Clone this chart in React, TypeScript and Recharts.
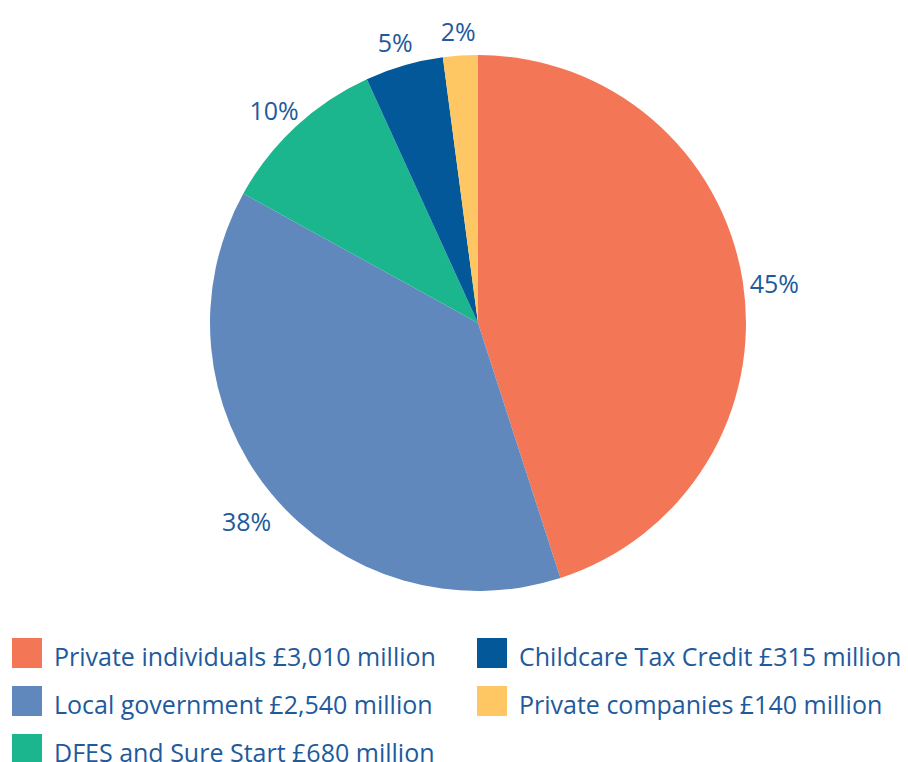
import React from "react";
import { PieChart, Pie, Cell, Legend } from "recharts";

const categories = [
  "Private individuals £3,010 million",
  "Local government £2,540 million",
  "DFES and Sure Start £680 million",
  "Childcare Tax Credit £315 million",
  "Private companies £140 million",
];
const values = [3010, 2540, 680, 315, 140];
const percentLabels = ["45%", "38%", "10%", "5%", "2%"];
const colors = ["#F37756", "#6088BD", "#1BB68D", "#03589A", "#FEC763"];

const data = categories.map((name, i) => ({ name, value: values[i], pct: percentLabels[i] }));

const TEXT = "#1E5A9C";
const FONT = "'Open Sans', 'Noto Sans', sans-serif";
const RAD = Math.PI / 180;

const renderLabel = (props: any) => {
  const { cx, cy, midAngle, outerRadius, index } = props;
  const r = outerRadius + 32;
  const x = cx + r * Math.cos(-midAngle * RAD);
  const y = cy + r * Math.sin(-midAngle * RAD) + 7;
  return (
    <text
      x={x}
      y={y}
      fill={TEXT}
      textAnchor="middle"
      dominantBaseline="central"
      fontSize={25}
      fontFamily={FONT}
    >
      {percentLabels[index]}
    </text>
  );
};

const legendOrder = [
  [0, 3],
  [1, 4],
  [2, -1],
];

const LegendContent = () => (
  <div style={{ position: "relative", width: 908, height: 140, fontFamily: FONT }}>
    {legendOrder.map((row, ri) =>
      row.map((idx, ci) =>
        idx < 0 ? null : (
          <div
            key={`${ri}-${ci}`}
            style={{
              position: "absolute",
              left: ci === 0 ? 12 : 477,
              top: ri * 48,
              display: "flex",
              alignItems: "center",
              height: 30,
            }}
          >
            <div style={{ width: 30, height: 30, background: colors[idx] }} />
            <span
              style={{
                marginLeft: 12,
                fontSize: 25,
                lineHeight: "30px",
                color: TEXT,
                whiteSpace: "nowrap",
                position: "relative",
                top: 3,
              }}
            >
              {categories[idx]}
            </span>
          </div>
        )
      )
    )}
  </div>
);

export default function App() {
  return (
    <div style={{ position: "absolute", top: 0, left: 0, width: 908, height: 762, background: "#fff", overflow: "hidden" }}>
      <PieChart width={908} height={762}>
        <Pie
          data={data}
          dataKey="value"
          nameKey="name"
          cx={473}
          cy={318}
          outerRadius={268}
          startAngle={90}
          endAngle={-270}
          stroke="none"
          label={renderLabel}
          labelLine={false}
          isAnimationActive={false}
        >
          {data.map((d, i) => (
            <Cell key={d.name} fill={colors[i]} />
          ))}
        </Pie>
        <Legend
          content={<LegendContent />}
          wrapperStyle={{ position: "absolute", top: 638, left: 0, width: 908 }}
        />
      </PieChart>
    </div>
  );
}
